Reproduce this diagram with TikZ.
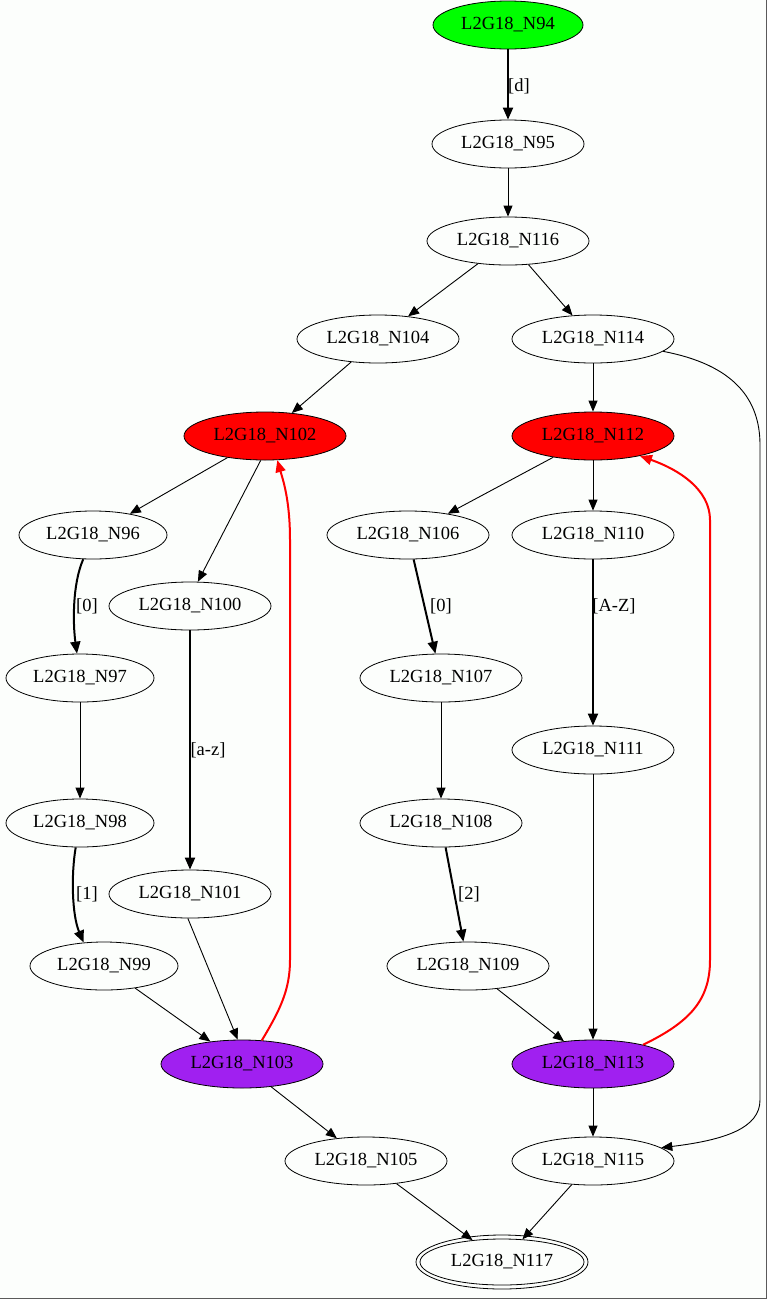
\documentclass[tikz,border=0pt]{standalone}
\usepackage{fontspec}
\setmainfont{Liberation Serif}
\usetikzlibrary{arrows.meta,shapes.geometric}
\definecolor{bgc}{RGB}{252,254,252}
\definecolor{framec}{RGB}{90,90,90}
\definecolor{startc}{RGB}{0,255,0}
\definecolor{loopc}{RGB}{255,0,0}
\definecolor{exitc}{RGB}{160,32,240}
\tikzset{
  st/.style={ellipse, draw=black, line width=0.8pt, minimum width=162pt, minimum height=48pt, inner sep=0pt, font=\fontsize{18.5}{20}\selectfont},
  sm/.style={st, minimum width=148pt},
  edge/.style={line width=0.9pt, -{Triangle[length=11pt,width=9pt]}},
  tedge/.style={line width=2pt, -{Triangle[length=12pt,width=10pt]}},
  redge/.style={line width=2pt, draw=loopc, -{Triangle[length=12pt,width=10pt]}, color=loopc},
  lab/.style={font=\fontsize{18.5}{20}\selectfont, inner sep=0pt}
}
\begin{document}
\begin{tikzpicture}[x=1pt,y=-1pt]
\fill[bgc] (0,0) rectangle (767,1299);
\useasboundingbox (0,0) rectangle (767,1299);
\draw[framec, line width=1pt] (766.5,0) -- (766.5,1298.5) -- (0,1298.5);

% nodes
\node[sm, minimum width=150pt, fill=startc] (n94) at (508,25) {L2G18\_N94};
\node[sm, minimum width=152pt] (n95) at (508,144) {L2G18\_N95};
\node[st] (n116) at (508,241) {L2G18\_N116};
\node[st] (n104) at (378,339) {L2G18\_N104};
\node[st] (n114) at (593,339) {L2G18\_N114};
\node[st, fill=loopc] (n102) at (265,436) {L2G18\_N102};
\node[st, fill=loopc] (n112) at (593,436) {L2G18\_N112};
\node[sm] (n96) at (93,535) {L2G18\_N96};
\node[st] (n106) at (408,535) {L2G18\_N106};
\node[st] (n110) at (593,535) {L2G18\_N110};
\node[st] (n100) at (190,606) {L2G18\_N100};
\node[sm] (n97) at (80,678) {L2G18\_N97};
\node[st] (n107) at (441,678) {L2G18\_N107};
\node[st] (n111) at (593,750) {L2G18\_N111};
\node[sm] (n98) at (80,823) {L2G18\_N98};
\node[st] (n108) at (441,823) {L2G18\_N108};
\node[st] (n101) at (190,894) {L2G18\_N101};
\node[sm] (n99) at (104,966) {L2G18\_N99};
\node[st] (n109) at (468,966) {L2G18\_N109};
\node[st, fill=exitc] (n103) at (242,1064) {L2G18\_N103};
\node[st, fill=exitc] (n113) at (593,1064) {L2G18\_N113};
\node[st] (n105) at (366,1161) {L2G18\_N105};
\node[st] (n115) at (593,1161) {L2G18\_N115};
\node[st, minimum width=164pt, minimum height=46pt] (n117) at (502,1262) {L2G18\_N117};
\draw[line width=0.8pt] (n117.center) ellipse (86pt and 27pt);

% edges
\draw[tedge] (n94) -- (n95);
\node[lab] (ld) at (519,86) {[d]};
\draw[edge] (n95) -- (n116);
\draw[edge] (n116) -- (n104);
\draw[edge] (n116) -- (n114);
\draw[edge] (n104) -- (n102);
\draw[edge] (n114) -- (n112);
\draw[edge] (n114.-10) .. controls (735,365) and (760,400) .. (760,445) -- (760,1100) .. controls (760,1128) and (725,1140) .. (n115.11);
\draw[edge] (n102) -- (n96);
\draw[edge] (n102.-100) -- (n100.72);
\draw[edge] (n112) -- (n106);
\draw[edge] (n112) -- (n110);
\draw[tedge] (n96.-112) .. controls (72,585) and (73,625) .. (n97.97);
\node[lab] (l0a) at (87,606) {[0]};
\draw[tedge] (n100) -- (n101);
\node[lab] (laz) at (208,750) {[a-z]};
\draw[edge] (n97) -- (n98);
\draw[tedge] (n98.-100) .. controls (71,875) and (72,915) .. (n99.131);
\node[lab] (l1) at (87,894) {[1]};
\draw[edge] (n99) -- (n103);
\draw[edge] (n101.-95) -- (n103.100);
\draw[edge] (n103) -- (n105);
\draw[edge] (n105) -- (n117);
\draw[edge] (n115) -- (n117);
\draw[tedge] (n106) -- (n107);
\node[lab] (l0b) at (441,606) {[0]};
\draw[tedge] (n110) -- (n111);
\node[lab] (lAZ) at (614,606) {[A-Z]};
\draw[edge] (n107) -- (n108);
\draw[tedge] (n108) -- (n109);
\node[lab] (l2) at (469,894) {[2]};
\draw[edge] (n109) -- (n113);
\draw[edge] (n111) -- (n113);
\draw[edge] (n113) -- (n115);
\draw[redge] (n103.50) .. controls (280,1010) and (290,990) .. (290,960) -- (290,540) .. controls (290,500) and (283,480) .. (n102.-63);
\draw[redge] (n113.21) .. controls (690,1022) and (710,1000) .. (710,960) -- (710,520) .. controls (710,490) and (680,470) .. (n112.-23);
\end{tikzpicture}
\end{document}
